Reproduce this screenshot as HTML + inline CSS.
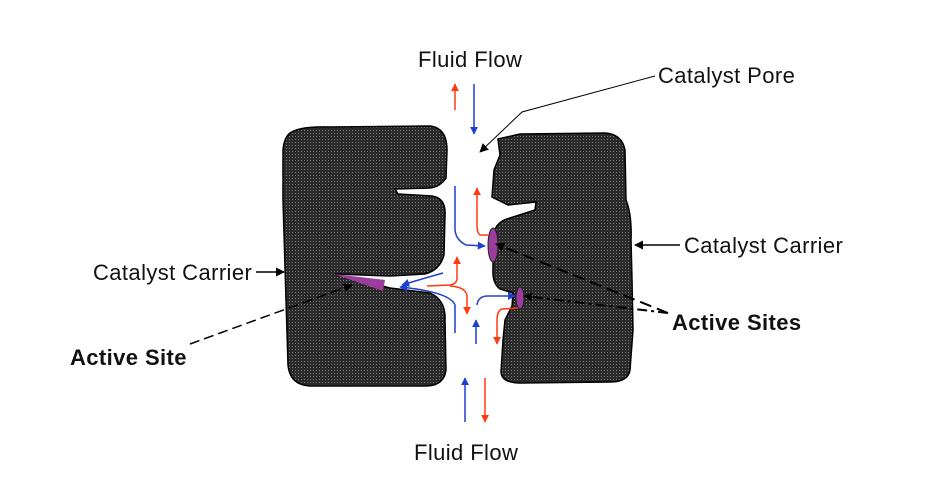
<!DOCTYPE html>
<html><head><meta charset="utf-8"><style>
body{margin:0;background:#fff}
svg{display:block}
text{font-family:"Liberation Sans",sans-serif;font-size:22px;letter-spacing:0.4px;fill:#111}
</style></head><body>
<svg width="925" height="483" viewBox="0 0 925 483">
<defs>
<pattern id="dots" width="3" height="3" patternUnits="userSpaceOnUse">
<rect width="3" height="3" fill="#2a2a2a"/><rect x="1" y="1" width="1" height="1" fill="#7a7a7a"/>
</pattern>
<marker id="ab" viewBox="0 0 10 10" refX="9" refY="5" markerWidth="8" markerHeight="8" markerUnits="userSpaceOnUse" orient="auto"><path d="M0,0L10,5L0,10z" fill="#1f3fd0"/></marker>
<marker id="ar" viewBox="0 0 10 10" refX="9" refY="5" markerWidth="8" markerHeight="8" markerUnits="userSpaceOnUse" orient="auto"><path d="M0,0L10,5L0,10z" fill="#ff3a10"/></marker>
<marker id="ak" viewBox="0 0 10 10" refX="9" refY="5" markerWidth="9" markerHeight="9" markerUnits="userSpaceOnUse" orient="auto"><path d="M0,0L10,5L0,10z" fill="#000"/></marker>
</defs>
<path fill="url(#dots)" stroke="#000" stroke-width="1.5"
d="M290,133 Q300,126 330,127 L430,126 Q447,128 447,150 L446,178 Q440,187 430,188 L395,189 L398,194 L432,196 Q446,198 445,215 L444,255 Q440,270 425,274 L390,276 L335,274 L390,288 L430,293 Q446,300 445,320 L446,370 Q444,386 425,386 L310,386 Q290,385 288,365 L286,300 L283,200 L283,150 Q284,138 290,133Z"/>
<path fill="url(#dots)" stroke="#000" stroke-width="1.5"
d="M498,139 L520,134 L605,133 Q622,134 625,150 L626,200 Q632,215 631,240 L632,280 L633,330 L630,370 Q628,382 610,382 L520,383 Q502,383 501,372 L503,340 L505,320 L512,306 L513,293 L500,289 Q492,283 493,268 L493,240 Q493,222 510,218 L535,210 L536,202 L508,205 L492,197 L494,170 L500,155Z"/>
<ellipse cx="493" cy="245" rx="5" ry="17" fill="#9a3d9c" stroke="#222"/>
<ellipse cx="520" cy="298" rx="4" ry="11" fill="#9a3d9c" stroke="#222"/>
<path d="M334,274 L385,280 L383,291Z" fill="#9a3d9c"/>
<g fill="none" stroke-width="1.5">
<line x1="455" y1="110" x2="455" y2="84" stroke="#ff3a10" marker-end="url(#ar)"/>
<line x1="474" y1="84" x2="474" y2="134" stroke="#1f3fd0" marker-end="url(#ab)"/>
<path d="M455,186 L455,230 Q456,240 466,245 L485,246" stroke="#1f3fd0" marker-end="url(#ab)"/>
<path d="M489,235 L480,235 Q477,233 477,225 L477,188" stroke="#ff3a10" marker-end="url(#ar)"/>
<path d="M427,286 L450,285 Q457,284 457,278 L457,257" stroke="#ff3a10" marker-end="url(#ar)"/>
<path d="M450,286 Q466,287 467,296 L467,314" stroke="#ff3a10" marker-end="url(#ar)"/>
<path d="M443,273 Q425,278 402,285" stroke="#1f3fd0" marker-end="url(#ab)"/>
<path d="M455,333 L455,305 Q450,292 400,287" stroke="#1f3fd0" marker-end="url(#ab)"/>
<line x1="476" y1="344" x2="476" y2="320" stroke="#1f3fd0" marker-end="url(#ab)"/>
<path d="M477,305 Q478,296 488,296 L515,296" stroke="#1f3fd0" marker-end="url(#ab)"/>
<path d="M518,308 L502,309 Q497,311 497,320 L497,344" stroke="#ff3a10" marker-end="url(#ar)"/>
<line x1="465" y1="422" x2="465" y2="378" stroke="#1f3fd0" marker-end="url(#ab)"/>
<line x1="485" y1="378" x2="485" y2="422" stroke="#ff3a10" marker-end="url(#ar)"/>
<path d="M655,76 L522,112 L480,152" stroke="#000" stroke-width="1" marker-end="url(#ak)"/>
<line x1="680" y1="245" x2="635" y2="245" stroke="#000" marker-end="url(#ak)"/>
<line x1="256" y1="272" x2="284" y2="272" stroke="#000" marker-end="url(#ak)"/>
<path d="M668,313 L496,244" stroke="#000" stroke-width="2" stroke-dasharray="12,6" marker-end="url(#ak)"/>
<path d="M668,313 L524,296" stroke="#000" stroke-width="2" stroke-dasharray="10,4,3,4" marker-end="url(#ak)"/>
<path d="M190,344 L352,285" stroke="#000" stroke-width="1.5" stroke-dasharray="10,5" marker-end="url(#ak)"/>
</g>
<text x="418" y="67">Fluid Flow</text>
<text x="658" y="83">Catalyst Pore</text>
<text x="684" y="253">Catalyst Carrier</text>
<text x="93" y="280">Catalyst Carrier</text>
<text x="672" y="330" font-weight="bold">Active Sites</text>
<text x="70" y="365" font-weight="bold">Active Site</text>
<text x="414" y="460">Fluid Flow</text>
</svg>
</body></html>
